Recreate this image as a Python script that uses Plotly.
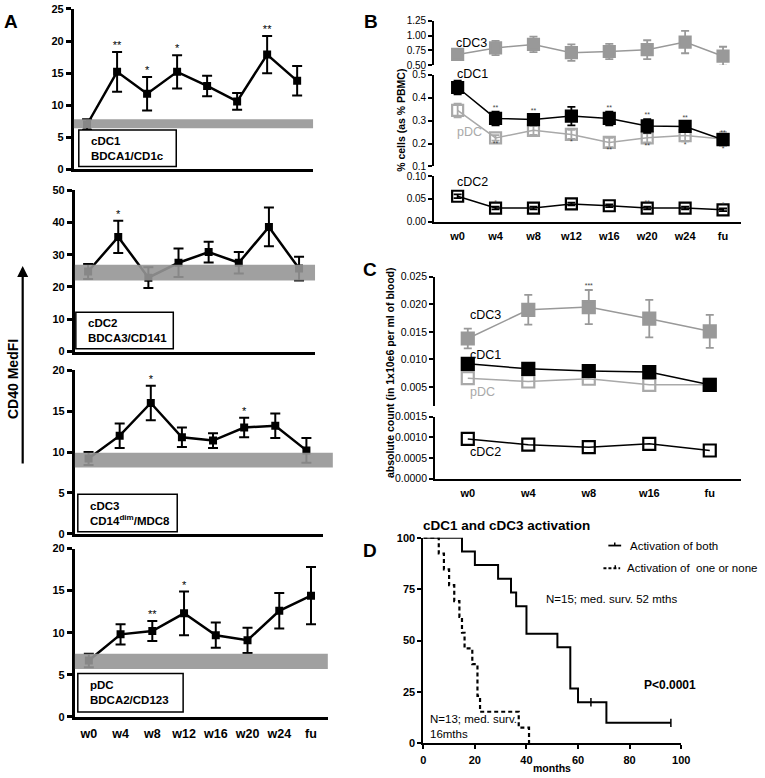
import plotly.graph_objects as go

W, H = 765, 778
FONT = "Liberation Sans, Arial, sans-serif"


def fx(p):
    return p / W


def fy(p):
    return 1 - p / H


# ---------------- DATA ----------------
weeks = ["w0", "w4", "w8", "w12", "w16", "w20", "w24", "fu"]

# Panel A: CD40 MedFI
a_cdc1_mean = [7.0, 15.2, 11.8, 15.2, 13.0, 10.6, 17.9, 13.8]
a_cdc1_err = [0.8, 3.1, 2.6, 2.6, 1.6, 1.3, 2.9, 2.3]
a_cdc1_sig = ["", "**", "*", "*", "", "", "**", ""]
a_cdc1_band = [6.4, 7.8]

a_cdc2_mean = [24.8, 35.5, 22.9, 27.5, 30.8, 27.5, 38.6, 25.7]
a_cdc2_err = [2.3, 5.0, 3.2, 4.4, 3.2, 3.3, 6.0, 3.7]
a_cdc2_sig = ["", "*", "", "", "", "", "", ""]
a_cdc2_band = [22.0, 26.9]

a_cdc3_mean = [9.2, 12.0, 16.0, 11.8, 11.4, 13.0, 13.2, 10.2]
a_cdc3_err = [0.8, 1.5, 2.1, 1.2, 0.9, 1.2, 1.5, 1.5]
a_cdc3_sig = ["", "", "*", "", "", "*", "", ""]
a_cdc3_band = [8.1, 9.9]

a_pdc_mean = [6.7, 9.8, 10.2, 12.3, 9.7, 9.1, 12.6, 14.4]
a_pdc_err = [0.8, 1.2, 1.2, 2.6, 1.5, 1.5, 2.1, 3.4]
a_pdc_sig = ["", "", "**", "*", "", "", "", ""]
a_pdc_band = [5.7, 7.5]

# Panel B: % cells (as % PBMC)
b_cdc3 = [0.68, 0.79, 0.85, 0.71, 0.73, 0.76, 0.89, 0.65]
b_cdc3_err = [0.07, 0.12, 0.13, 0.14, 0.13, 0.16, 0.19, 0.16]
b_cdc1 = [0.445, 0.31, 0.305, 0.32, 0.31, 0.277, 0.275, 0.217]
b_cdc1_err = [0.03, 0.03, 0.02, 0.04, 0.03, 0.03, 0.02, 0.015]
b_cdc1_sig = ["", "**", "**", "", "**", "**", "**", "**"]
b_pdc = [0.345, 0.225, 0.258, 0.24, 0.205, 0.225, 0.235, 0.22]
b_pdc_err = [0.03, 0.012, 0.02, 0.02, 0.02, 0.02, 0.025, 0.03]
b_pdc_sig = ["", "**", "", "*", "**", "**", "*", "*"]
b_cdc2 = [0.056, 0.030, 0.030, 0.039, 0.035, 0.030, 0.030, 0.026]
b_cdc2_err = [0.004, 0.003, 0.003, 0.003, 0.003, 0.003, 0.003, 0.003]
b_cdc2_sig = ["", "*", "", "", "", "**", "", "*"]

# Panel C: absolute count
c_weeks = ["w0", "w4", "w8", "w16", "fu"]
c_cdc3 = [0.0138, 0.0190, 0.0195, 0.0174, 0.0151]
c_cdc3_err = [0.0018, 0.0027, 0.0031, 0.0034, 0.0030]
c_cdc3_sig = ["", "", "***", "", ""]
c_cdc1 = [0.0092, 0.0083, 0.0079, 0.0077, 0.0054]
c_pdc = [0.0066, 0.0060, 0.0065, 0.0054, 0.0054]
c_cdc2 = [0.00096, 0.00082, 0.00076, 0.00084, 0.00068]

# Panel D: Kaplan-Meier
both_t = [0, 15, 20, 29, 34, 36, 40, 52, 57, 60, 71, 96]
both_s = [100, 93.3, 86.7, 80, 73.3, 66.7, 53.3, 46.7, 26.7, 20, 10, 10]
both_cens_t = [65, 96]
both_cens_s = [20, 10]
one_t = [0, 6, 8, 10, 12, 14, 15, 16, 19, 21, 22, 37, 41]
one_s = [100, 92.3, 84.6, 76.9, 69.2, 61.5, 53.8, 46.2, 38.5, 23.1, 15.4, 7.7, 0]
legend_names = ["Activation of both", "Activation of  one or none"]

# ---------------- FIGURE ----------------
fig = go.Figure()
layout = {}
shapes = []
annotations = []


def ann(x, y, text, size=11, bold=False, color="black", xanchor="left", **kw):
    annotations.append(dict(
        x=fx(x), y=fy(y), xref="paper", yref="paper", text=text, showarrow=False,
        xanchor=xanchor, yanchor="middle",
        font=dict(family=FONT, size=size, color=color, weight="bold" if bold else "normal"),
        **kw))


def tf(size, bold=False):
    return dict(family=FONT, size=size, color="black", weight="bold" if bold else "normal")


def pline(x0, y0, x1, y1, width=2, dash="solid"):
    shapes.append(dict(type="line", xref="paper", yref="paper", x0=fx(x0), y0=fy(y0),
                       x1=fx(x1), y1=fy(y1), line=dict(color="black", width=width, dash=dash)))


# ---- Panel A ----
a_specs = [
    (72, 315, 3, 166, 25, 5, a_cdc1_mean, a_cdc1_err, a_cdc1_sig, a_cdc1_band, 1.0),
    (73, 317, 187, 351, 50, 10, a_cdc2_mean, a_cdc2_err, a_cdc2_sig, a_cdc2_band, 1.0),
    (73, 325, 370, 536, 20, 5, a_cdc3_mean, a_cdc3_err, a_cdc3_sig, a_cdc3_band, 1.04),
    (73, 330, 551, 722, 20, 5, a_pdc_mean, a_pdc_err, a_pdc_sig, a_pdc_band, 1.0),
]
xs8 = list(range(len(weeks)))
for i, (x0, x1, yt, yb, ymax, dt, mean, err, sig, band, bx1) in enumerate(a_specs, start=1):
    sfx = "" if i == 1 else str(i)
    layout["xaxis" + sfx] = dict(
        domain=[fx(x0), fx(x1)], range=[-0.44, 7.53], anchor="y" + sfx,
        showline=True, linewidth=3, linecolor="black", ticks="", showgrid=False,
        zeroline=False, tickvals=xs8, ticktext=weeks, showticklabels=(i == 4),
        tickfont=tf(12.5, True), ticklabelstandoff=3)
    layout["yaxis" + sfx] = dict(
        domain=[fy(yb), fy(yt)], range=[0, ymax], dtick=dt, anchor="x" + sfx,
        showline=True, linewidth=3, linecolor="black", ticks="outside", ticklen=5,
        tickwidth=2.5, tickcolor="black", showgrid=False, zeroline=False,
        tickfont=tf(11, True))
    fig.add_trace(go.Scatter(
        x=xs8, y=mean, mode="lines+markers", xaxis="x" + sfx, yaxis="y" + sfx,
        line=dict(color="black", width=2.5),
        marker=dict(symbol="square", size=8, color="black"),
        error_y=dict(type="data", array=err, color="black", thickness=2, width=5),
        showlegend=False))
    fig.add_trace(go.Scatter(
        x=xs8, y=[m + e for m, e in zip(mean, err)], mode="text", text=sig,
        textposition="top center", textfont=dict(family=FONT, size=11, color="black"),
        xaxis="x" + sfx, yaxis="y" + sfx, showlegend=False, cliponaxis=False))
    shapes.append(dict(type="rect", xref="x" + sfx + " domain", yref="y" + sfx,
                       x0=0, x1=bx1, y0=band[0], y1=band[1], layer="above",
                       fillcolor="rgba(150,150,150,0.9)", line=dict(width=0)))

boxes = [(77, 126, 176, 163, "cDC1<br>BDCA1/CD1c"),
         (74, 311, 173, 348, "cDC2<br>BDCA3/CD141"),
         (76, 496, 177, 534, "cDC3<br>CD14<sup>dim</sup>/MDC8"),
         (76, 678, 183, 717, "pDC<br>BDCA2/CD123")]
for bx0, by0, bx1, by1, txt in boxes:
    shapes.append(dict(type="rect", xref="paper", yref="paper", x0=fx(bx0), x1=fx(bx1),
                       y0=fy(by1), y1=fy(by0), fillcolor="white",
                       line=dict(color="black", width=1.5), layer="above"))
    ann(bx0 + 10, (by0 + by1) / 2, txt, size=11.5, bold=True, align="left")

ann(10, 379, "CD40 MedFI", size=14, bold=True, xanchor="center", textangle=-90)
annotations.append(dict(x=fx(20), y=fy(264), ax=0, ay=206, xref="paper", yref="paper",
                        axref="pixel", ayref="pixel", showarrow=True, arrowhead=2,
                        arrowwidth=2.2, arrowsize=1, arrowcolor="black", text=" "))

# ---- Panel B ----
GRAY1 = "#999999"
GRAY2 = "#a9a9a9"
layout["xaxis5"] = dict(domain=[fx(438), fx(750)], range=[-0.62, 7.48], anchor="y7",
                        showline=True, linewidth=2, linecolor="black", ticks="",
                        tickvals=xs8, ticktext=weeks, tickfont=tf(11, True),
                        showgrid=False, zeroline=False, ticklabelstandoff=3)
b_yax = dict(showline=True, linewidth=2, linecolor="black", ticks="outside", ticklen=4,
             tickwidth=1.5, tickcolor="black", showgrid=False, zeroline=False,
             tickfont=tf(10), anchor="x5")
layout["yaxis5"] = dict(b_yax, domain=[fy(60), fy(15)], range=[0.5, 1.25],
                        tickvals=[0.5, 0.75, 1.0, 1.25], tickformat=".2f")
layout["yaxis6"] = dict(b_yax, domain=[fy(163), fy(70)], range=[0.1, 0.5],
                        tickvals=[0.1, 0.2, 0.3, 0.4, 0.5], tickformat=".1f")
layout["yaxis7"] = dict(b_yax, domain=[fy(219), fy(173)], range=[0, 0.1],
                        tickvals=[0, 0.05, 0.1], tickformat=".2f")


def series(x, y, err, xa, ya, color, open_=False, size=11, lw=1.5):
    kw = {}
    if err is not None:
        kw["error_y"] = dict(type="data", array=err, color=color, thickness=1.8, width=4)
    fig.add_trace(go.Scatter(
        x=x, y=y, mode="lines+markers", xaxis=xa, yaxis=ya,
        line=dict(color=color, width=lw),
        marker=dict(symbol="square-open" if open_ else "square", size=size, color=color,
                    line=dict(width=2.2, color=color)),
        showlegend=False, **kw))


def stars(x, y, sig, xa, ya, pos, size=7, color="#444444"):
    fig.add_trace(go.Scatter(
        x=x, y=y, mode="text", text=sig, textposition=pos, xaxis=xa, yaxis=ya,
        textfont=dict(family=FONT, size=size, color=color), showlegend=False,
        cliponaxis=False))


series(xs8, b_cdc3, b_cdc3_err, "x5", "y5", GRAY1)
series(xs8, b_pdc, b_pdc_err, "x5", "y6", GRAY2, open_=True)
series(xs8, b_cdc1, b_cdc1_err, "x5", "y6", "black")
series(xs8, b_cdc2, b_cdc2_err, "x5", "y7", "black", open_=True)
stars(xs8, [m + e for m, e in zip(b_cdc1, b_cdc1_err)], b_cdc1_sig, "x5", "y6", "top center")
stars(xs8, [m - e for m, e in zip(b_pdc, b_pdc_err)], b_pdc_sig, "x5", "y6", "bottom center")
stars(xs8, [m + e for m, e in zip(b_cdc2, b_cdc2_err)], b_cdc2_sig, "x5", "y7", "top center")

ann(458, 38, "cDC3", size=12.5)
ann(459, 69, "cDC1", size=12.5)
ann(459, 128, "pDC", size=12.5, color=GRAY2)
ann(459, 179, "cDC2", size=12.5)
ann(405, 116, "% cells (as % PBMC)", size=10.5, bold=True, xanchor="center", textangle=-90)

# ---- Panel C ----
xs5 = list(range(len(c_weeks)))
layout["xaxis6"] = dict(domain=[fx(439), fx(750)], range=[-0.54, 4.52], anchor="y9",
                        showline=True, linewidth=2, linecolor="black", ticks="",
                        tickvals=xs5, ticktext=c_weeks, tickfont=tf(11, True),
                        showgrid=False, zeroline=False, ticklabelstandoff=3)
c_yax = dict(b_yax, anchor="x6", tickfont=tf(10.5))
layout["yaxis8"] = dict(c_yax, domain=[fy(406), fy(275)], range=[0.0016, 0.025],
                        tickvals=[0.005, 0.01, 0.015, 0.02, 0.025], tickformat=".3f")
layout["yaxis9"] = dict(c_yax, domain=[fy(480), fy(417)], range=[0, 0.0015],
                        tickvals=[0, 0.0005, 0.001, 0.0015], tickformat=".4f")

series(xs5, c_cdc3, c_cdc3_err, "x6", "y8", GRAY1, size=12)
series(xs5, c_pdc, None, "x6", "y8", GRAY2, open_=True, size=12)
series(xs5, c_cdc1, None, "x6", "y8", "black", size=12)
series(xs5, c_cdc2, None, "x6", "y9", "black", open_=True, size=12)
stars(xs5, [m + e for m, e in zip(c_cdc3, c_cdc3_err)], c_cdc3_sig, "x6", "y8", "top center")

ann(472, 314, "cDC3", size=12.5)
ann(472, 354, "cDC1", size=12.5)
ann(472, 392, "pDC", size=12.5, color=GRAY2)
ann(472, 453, "cDC2", size=12.5)
ann(393, 372, "absolute count (in 1x10e6 per ml of blood)", size=10.5, bold=True,
    xanchor="center", textangle=-90)

# ---- Panel D ----
layout["xaxis7"] = dict(domain=[fx(427), fx(689)], range=[0, 100], anchor="y10",
                        showline=True, linewidth=1.8, linecolor="black", ticks="outside",
                        ticklen=4, tickwidth=1.5, tickcolor="black",
                        tickvals=[0, 20, 40, 60, 80, 100], tickfont=tf(11, True),
                        showgrid=False, zeroline=False, ticklabelstandoff=1)
layout["yaxis10"] = dict(domain=[fy(749), fy(540)], range=[0, 100], anchor="x7",
                         showline=True, linewidth=1.8, linecolor="black", ticks="outside",
                         ticklen=4, tickwidth=1.5, tickcolor="black",
                         tickvals=[0, 25, 50, 75, 100], tickfont=tf(11, True),
                         showgrid=False, zeroline=False)
fig.add_trace(go.Scatter(x=both_t, y=both_s, mode="lines", line_shape="hv",
                         line=dict(color="black", width=2), xaxis="x7", yaxis="y10",
                         name=legend_names[0], showlegend=False, cliponaxis=False))
fig.add_trace(go.Scatter(x=one_t, y=one_s, mode="lines", line_shape="hv",
                         line=dict(color="black", width=2.2, dash="4px,3px"),
                         xaxis="x7", yaxis="y10", name=legend_names[1], showlegend=False))
fig.add_trace(go.Scatter(x=both_cens_t, y=both_cens_s, mode="markers",
                         marker=dict(symbol="line-ns-open", size=6, color="black",
                                     line=dict(width=1.5, color="black")),
                         xaxis="x7", yaxis="y10", showlegend=False, cliponaxis=False))

# manual legend
pline(615, 548, 628, 548, width=1.8)
pline(621.5, 545, 621.5, 548, width=1.5)
ann(635, 548, legend_names[0], size=11.5)
pline(610, 571, 627, 571, width=2, dash="3px,2px")
pline(622, 568, 622, 571, width=1.5)
ann(632, 571, legend_names[1], size=11.5)

ann(425, 528, "cDC1 and cDC3 activation", size=13.5, bold=True)
ann(550, 602, "N=15; med. surv. 52 mths", size=11.5)
ann(649, 690, "P<0.0001", size=12, bold=True)
ann(432, 732, "N=13; med. surv.<br>16mths", size=11.5, align="left")
ann(558, 774, "months", size=10.5, bold=True, xanchor="center")

# Panel letters
ann(8, 16, "A", size=19, bold=True, xanchor="center")
ann(374, 16, "B", size=19, bold=True, xanchor="center")
ann(373, 268, "C", size=19, bold=True, xanchor="center")
ann(373, 553, "D", size=19, bold=True, xanchor="center")

layout.update(dict(
    width=W, height=H, autosize=False,
    margin=dict(l=0, r=0, t=0, b=0),
    paper_bgcolor="white", plot_bgcolor="rgba(0,0,0,0)",
    font=dict(family=FONT, color="black"),
    shapes=shapes, annotations=annotations, showlegend=False,
))
fig.update_layout(layout)
fig.write_html("out.html", config={"displayModeBar": False},
               post_script="document.body.style.margin='0px';document.body.style.overflow='hidden';")
